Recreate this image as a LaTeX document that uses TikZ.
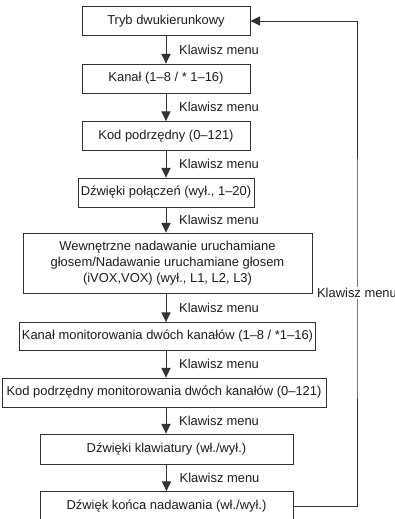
\documentclass[tikz,border=0pt]{standalone}
\usepackage{fontspec}
\setmainfont{Liberation Sans}
\usepackage{xcolor}
\usetikzlibrary{positioning,calc,arrows.meta}
\definecolor{edgegray}{HTML}{333333}
\definecolor{textgray}{HTML}{1E1E1E}

\begin{document}
\begin{tikzpicture}[menubox/.style={draw=edgegray, fill=white, line width=0.65pt, inner sep=2pt, minimum height=0.725cm, align=center, text=textgray, font=\fontsize{9.2}{11.4}\selectfont}, flow/.style={-{Triangle[length=2.4mm, width=2.3mm]}, draw=edgegray, line width=0.65pt}, keylabel/.style={anchor=west, xshift=0.2cm, text=textgray, font=\fontsize{9.2}{10.6}\selectfont}]
\useasboundingbox (0,0) rectangle (9.875,-12.975);
\node[menubox, minimum width=4.2cm] (b1) at (4.15,-0.525) {Tryb dwukierunkowy};
\node[menubox, minimum width=4.2cm] (b2) at (4.15,-1.9625) {Kanał (1–8 / * 1–16)};
\node[menubox, minimum width=4.2cm] (b3) at (4.15,-3.4) {Kod podrzędny (0–121)};
\node[menubox, minimum width=4.2cm] (b4) at (4.15,-4.8125) {Dźwięki połączeń (wył., 1–20)};
\node[menubox, minimum width=7.225cm, minimum height=1.5cm] (b5) at (4.1875,-6.575) {Wewnętrzne nadawanie uruchamiane\\głosem/Nadawanie uruchamiane głosem\\(iVOX,VOX) (wył., L1, L2, L3)};
\node[menubox, minimum width=7.225cm, minimum height=0.7cm] (b6) at (4.1875,-8.4125) {Kanał monitorowania dwóch kanałów (1–8 / *1–16)};
\node[menubox, minimum width=8.1cm] (b7) at (4.1,-9.8125) {Kod podrzędny monitorowania dwóch kanałów (0–121)};
\node[menubox, minimum width=6.325cm, minimum height=0.75cm] (b8) at (4.1625,-11.225) {Dźwięki klawiatury (wł./wył.)};
\node[menubox, minimum width=6.325cm] (b9) at (4.1625,-12.65) {Dźwięk końca nadawania (wł./wył.)};
\draw[flow] (b1.south) -- (b1.south |- b2.north) node[keylabel, midway] {Klawisz menu};
\draw[flow] (b2.south) -- (b2.south |- b3.north) node[keylabel, midway] {Klawisz menu};
\draw[flow] (b3.south) -- (b3.south |- b4.north) node[keylabel, midway] {Klawisz menu};
\draw[flow] (b4.south) -- (b4.south |- b5.north) node[keylabel, midway] {Klawisz menu};
\draw[flow] (b4.south |- b5.south) -- (b4.south |- b6.north) node[keylabel, midway] {Klawisz menu};
\draw[flow] (b4.south |- b6.south) -- (b4.south |- b7.north) node[keylabel, midway] {Klawisz menu};
\draw[flow] (b4.south |- b7.south) -- (b4.south |- b8.north) node[keylabel, midway] {Klawisz menu};
\draw[flow] (b8.south) -- (b8.south |- b9.north) node[keylabel, midway] {Klawisz menu};
% return path
\coordinate (loop) at (8.925,-7.325);
\draw[flow] (b9.east) -| (loop) |- (b1.east);
\node[fill=white, inner sep=1pt, text=textgray, font=\fontsize{9.2}{10.6}\selectfont] (back) at (loop) {Klawisz menu};
\end{tikzpicture}
\end{document}
